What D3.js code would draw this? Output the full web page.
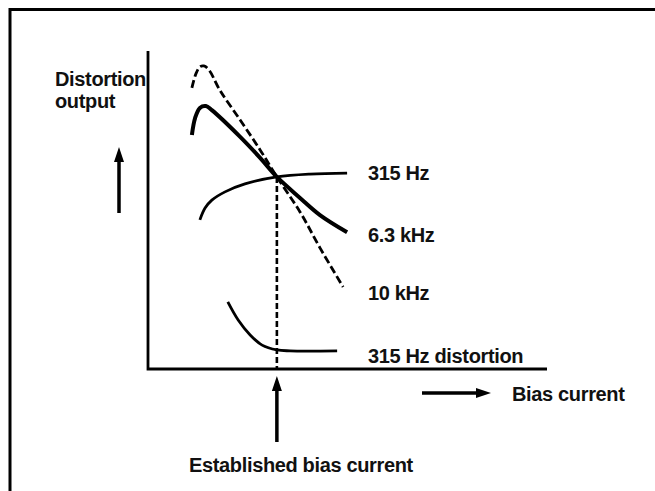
<!DOCTYPE html>
<html>
<head>
<meta charset="utf-8">
<script src="https://cdn.jsdelivr.net/npm/d3@7"></script>
<style>
    body { margin:0; background:#fff; }
    svg { display:block; }
    text { font-family:"Liberation Sans", Arial, sans-serif; font-weight:bold; font-size:20px; letter-spacing:-0.35px; fill:#111; }
</style>
</head>
<body>
<svg id="chart" width="655" height="491"></svg>
<script>

// bias current (x) vs output level (y), both in arbitrary 0-100 units
const tenKhzX   = [11, 12, 13, 14, 15.3, 18, 23.1, 28.1, 32.3, 38.1, 43.1, 48.9];
const tenKhzY   = [88.4, 92.8, 95, 95.3, 94, 87.7, 78.3, 68.9, 60.4, 49.4, 38.1, 25.8];

const sixKhzX   = [11, 11.8, 13, 14.5, 16, 23.1, 28.1, 32.3, 38.1, 43.1, 49.9];
const sixKhzY   = [73.6, 78.9, 82.1, 82.7, 81.4, 73, 66.4, 60.4, 53.8, 48.4, 43];

const lowHzX    = [13, 14.3, 16, 19.3, 24.3, 32.3, 40.6, 49.9];
const lowHzY    = [46.9, 50.6, 53.1, 55.7, 58.2, 60.4, 61.3, 61.6];

const distX     = [20, 22.6, 25.6, 28.6, 32.3, 35.6, 47.4];
const distY     = [21.1, 15.4, 10.7, 7.5, 6, 5.7, 5.7];

const biasPoint = [32.3, 60.4];

const labels    = ["315 Hz", "6.3 kHz", "10 kHz", "315 Hz distortion"];
const labelY    = [61.6, 42, 24, 4];

let svg = d3.select("#chart");

let x = d3.scaleLinear().domain([0, 100]).range([148, 547]);
let y = d3.scaleLinear().domain([0, 100]).range([369, 51]);

// frame
svg.append("path")
.attr("d", "M10,491 L10,9.5 L655,9.5")
.attr("fill", "none")
.attr("stroke", "#000")
.attr("stroke-width", 3);

// axes
svg.append("path")
.attr("d", `M${x(0)},${y(100)} L${x(0)},${y(0)} L${x(100)},${y(0)}`)
.attr("fill", "none")
.attr("stroke", "#000")
.attr("stroke-width", 2.8);

let line = d3.line()
.x(d => x(d[0]))
.y(d => y(d[1]))
.curve(d3.curveCatmullRom.alpha(0.5));

function curve(xs, ys, width, dash)
{
    svg.append("path")
    .datum(d3.zip(xs, ys))
    .attr("d", line)
    .attr("fill", "none")
    .attr("stroke", "#000")
    .attr("stroke-width", width)
    .attr("stroke-dasharray", dash)
    .attr("stroke-linecap", "butt");
}

curve(tenKhzX, tenKhzY, 2.8, "8,3.5");
curve(sixKhzX, sixKhzY, 4, null);
curve(lowHzX, lowHzY, 2.8, null);
curve(distX, distY, 2.8, null);

// established bias line
svg.append("line")
.attr("x1", x(biasPoint[0]))
.attr("y1", y(biasPoint[1]))
.attr("x2", x(biasPoint[0]))
.attr("y2", y(0))
.attr("stroke", "#000")
.attr("stroke-width", 2.6)
.attr("stroke-dasharray", "6,3");

// curve labels
svg.selectAll(".label")
.data(labels)
.join("text")
.attr("class", "label")
.attr("x", 368)
.attr("y", (d, i) => y(labelY[i]) + 7)
.text(d => d);

function arrow(x1, y1, x2, y2)
{
    let a = Math.atan2(y2 - y1, x2 - x1);
    let len = 15, half = 5;
    let bx = x2 - len * Math.cos(a), by = y2 - len * Math.sin(a);

    svg.append("line")
    .attr("x1", x1).attr("y1", y1)
    .attr("x2", bx).attr("y2", by)
    .attr("stroke", "#000")
    .attr("stroke-width", 3.5);

    svg.append("path")
    .attr("d", `M${x2},${y2} L${bx - half * Math.sin(a)},${by + half * Math.cos(a)} L${bx + half * Math.sin(a)},${by - half * Math.cos(a)} Z`)
    .attr("fill", "#000");
}

// y title
svg.append("text").attr("x", 55).attr("y", 86).text("Distortion");
svg.append("text").attr("x", 55).attr("y", 108).text("output");
arrow(119, 213, 119, 147);

// x title
arrow(422, 393, 491, 393);
svg.append("text").attr("x", 512).attr("y", 401).text("Bias current");

// established bias
arrow(x(biasPoint[0]), 442, x(biasPoint[0]), 376);
svg.append("text").attr("x", 189).attr("y", 472).text("Established bias current");

</script>
</body>
</html>
